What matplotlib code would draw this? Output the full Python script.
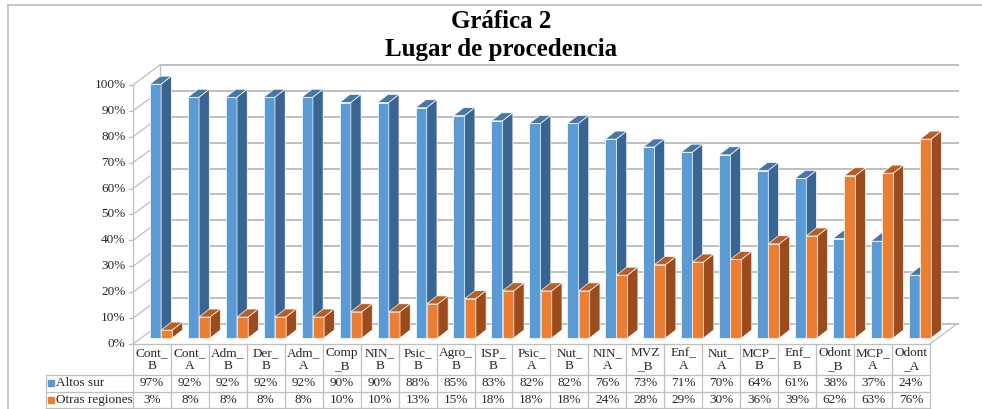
import matplotlib
matplotlib.use('Agg')
import matplotlib.pyplot as plt
from matplotlib.patches import Polygon

plt.rcParams['font.family'] = ['Liberation Serif', 'DejaVu Serif']

#-------Data-------------
categorias = ['Cont_\nB', 'Cont_\nA', 'Adm_\nB', 'Der_\nB', 'Adm_\nA', 'Comp\n_B', 'NIN_\nB',
              'Psic_\nB', 'Agro_\nB', 'ISP_\nB', 'Psic_\nA', 'Nut_\nB', 'NIN_\nA', 'MVZ\n_B',
              'Enf_\nA', 'Nut_\nA', 'MCP_\nB', 'Enf_\nB', 'Odont\n_B', 'MCP_\nA', 'Odont\n_A']
altos_sur = [97, 92, 92, 92, 92, 90, 90, 88, 85, 83, 82, 82, 76, 73, 71, 70, 64, 61, 38, 37, 24]
otras_regiones = [3, 8, 8, 8, 8, 10, 10, 13, 15, 18, 18, 18, 24, 28, 29, 30, 36, 39, 62, 63, 76]
series = ['Altos sur', 'Otras regiones']
yticks = list(range(0, 101, 10))
#------------------------

# colors (front, top, side)
azul = ('#5B9BD5', '#4677A6', '#3A6591')
naranja = ('#ED7D31', '#B75E24', '#9C4C1C')
gris = '#BFBFBF'

# 3D look settings (in data units)
back_dx, back_dy = 0.711, 7.72     # depth of floor
base_y = 2.32                      # bar base sits a bit inside the floor
bar_w = 0.295
bar_off = 0.445
dep_dx, dep_dy = 0.27, 3.1         # bar depth
escala = 1.01                      # bars are a bit deeper -> slightly bigger
n = len(categorias)

fig = plt.figure(figsize=(9.82, 4.09), dpi=100)
ax = fig.add_axes([0, 0, 1, 1])
ax.set_xlim(-3.505, 22.372)
ax.set_ylim(-25.1, 132.8)
ax.axis('off')

# back wall gridlines
for t in yticks:
    ax.plot([back_dx, n + back_dx + 0.03], [t + back_dy, t + back_dy], color=gris, lw=1.4, zorder=1)
    # side wall lines
    ax.plot([0, back_dx], [t, t + back_dy], color=gris, lw=0.9, zorder=1)
    ax.plot([-0.1, 0], [t, t], color=gris, lw=0.9, zorder=1)
    ax.text(-0.2, t, f'{t}%', ha='right', va='center', fontsize=9.5, color='#262626')
ax.plot([back_dx, back_dx], [back_dy, 100 + back_dy], color=gris, lw=0.9, zorder=1)
ax.plot([0, 0], [0, 100], color=gris, lw=0.9, zorder=1)
# floor right edge
ax.plot([n, n + back_dx], [0, back_dy], color=gris, lw=0.9, zorder=1)


def bar3d(x0, val, cols, z):
    h = val * escala
    ax.bar(x0, h, width=bar_w, bottom=base_y, align='edge', color=cols[0],
           edgecolor='white', linewidth=0.5, zorder=z)
    top = base_y + h
    ax.add_patch(Polygon([(x0, top), (x0 + bar_w, top), (x0 + bar_w + dep_dx, top + dep_dy),
                          (x0 + dep_dx, top + dep_dy)], closed=True, facecolor=cols[1],
                         edgecolor='white', linewidth=0.5, zorder=z))
    ax.add_patch(Polygon([(x0 + bar_w, base_y), (x0 + bar_w + dep_dx, base_y + dep_dy),
                          (x0 + bar_w + dep_dx, top + dep_dy), (x0 + bar_w, top)], closed=True,
                         facecolor=cols[2], edgecolor='white', linewidth=0.5, zorder=z))


z = 2
for i in range(n):
    bar3d(i + bar_off, altos_sur[i], azul, z)
    bar3d(i + bar_off + bar_w, otras_regiones[i], naranja, z + 1)
    z += 2

# data table
h_top, h_mid, h_r1, h_r2 = 0, -11.97, -18.5, -24.7
leg_x = -2.29
ax.plot([0, n], [h_top, h_top], color=gris, lw=0.9, zorder=1)
for yy in (h_mid, h_r1, h_r2):
    ax.plot([leg_x, n], [yy, yy], color=gris, lw=0.9, zorder=1)
for i in range(n + 1):
    ax.plot([i, i], [h_top, h_r2], color=gris, lw=0.9, zorder=1)
ax.plot([leg_x, leg_x], [h_mid, h_r2], color=gris, lw=0.9, zorder=1)

for i, c in enumerate(categorias):
    ax.text(i + 0.5, (h_top + h_mid) / 2, c, ha='center', va='center', fontsize=9.5,
            linespacing=1.05, color='#262626')
    ax.text(i + 0.5, (h_mid + h_r1) / 2, f'{altos_sur[i]}%', ha='center', va='center',
            fontsize=9.5, color='#262626')
    ax.text(i + 0.5, (h_r1 + h_r2) / 2, f'{otras_regiones[i]}%', ha='center', va='center',
            fontsize=9.5, color='#262626')

for s, cols, y0, y1 in [(series[0], azul, h_mid, h_r1), (series[1], naranja, h_r1, h_r2)]:
    yc = (y0 + y1) / 2
    ax.plot([leg_x + 0.14], [yc], marker='s', markersize=4, color=cols[0], linestyle='none')
    ax.text(leg_x + 0.27, yc, s, ha='left', va='center', fontsize=9.5, color='#262626')

# chart border
ax.plot([-3.294, -3.294], [-25.1, 130.9], color=gris, lw=1.2, clip_on=False)
ax.plot([-3.294, 22.372], [130.9, 130.9], color=gris, lw=1.2, clip_on=False)

fig.text(0.51, 0.947, 'Gráfica 2', ha='center', va='center', fontsize=18, fontweight='bold')
fig.text(0.51, 0.878, 'Lugar de procedencia', ha='center', va='center', fontsize=18,
         fontweight='bold')

fig.savefig('out.png', dpi=100)
